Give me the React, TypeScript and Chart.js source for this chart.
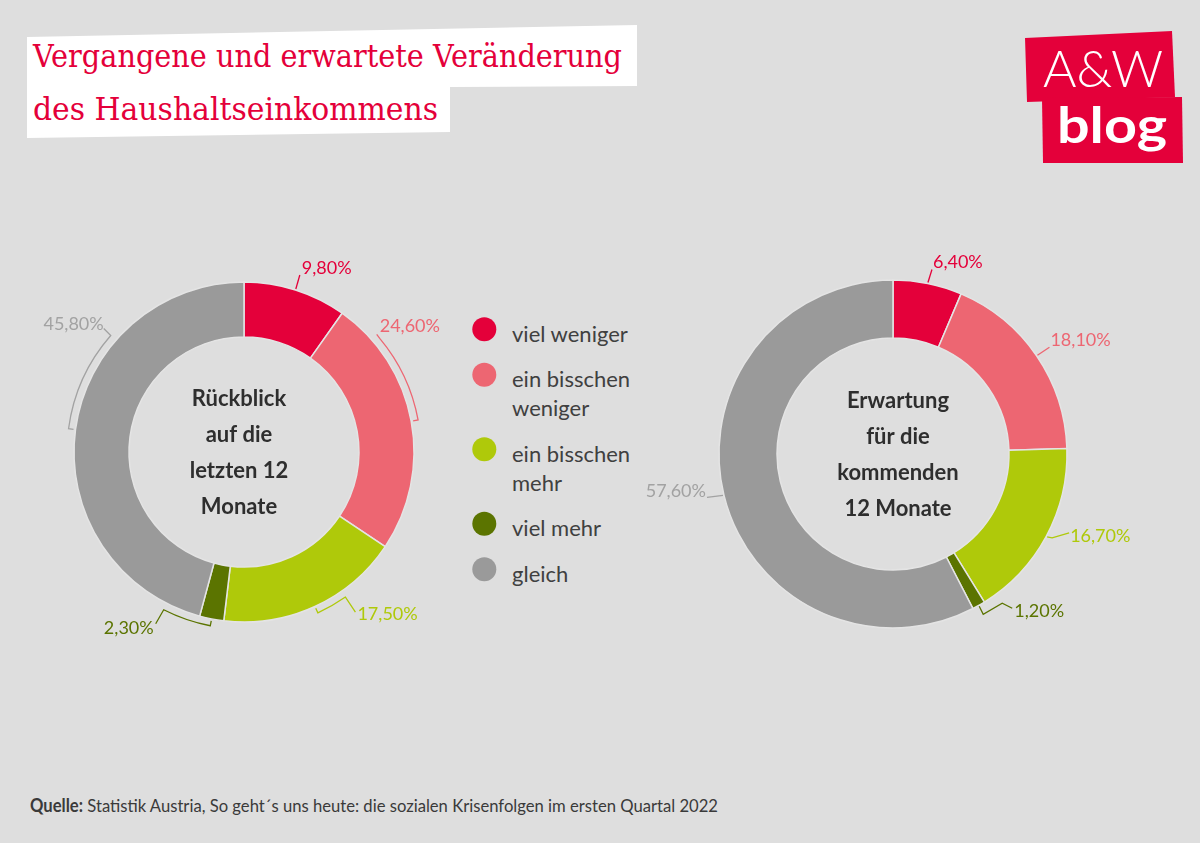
import React, { useEffect, useRef } from "react";
import { Chart, registerables } from "chart.js";

Chart.register(...registerables);

// ---------- data ----------
const categories = ["viel weniger", "ein bisschen weniger", "ein bisschen mehr", "viel mehr", "gleich"];
const legendLines = [["viel weniger"], ["ein bisschen", "weniger"], ["ein bisschen", "mehr"], ["viel mehr"], ["gleich"]];
const pastValues = [9.8, 24.6, 17.5, 2.3, 45.8];
const futureValues = [6.4, 18.1, 16.7, 1.2, 57.6];
const pastCenter = ["Rückblick", "auf die", "letzten 12", "Monate"];
const futureCenter = ["Erwartung", "für die", "kommenden", "12 Monate"];
const titleLines = ["Vergangene und erwartete Veränderung", "des Haushaltseinkommens"];
const sourceBold = "Quelle:";
const sourceText = " Statistik Austria, So geht´s uns heute: die sozialen Krisenfolgen im ersten Quartal 2022";

// ---------- styles ----------
const BG = "#dedede";
const RED = "#e4003a";
const colors = ["#e4003a", "#ed6672", "#afc90a", "#5b7400", "#9a9a9a"];
const labelColors = ["#e4003a", "#ed6672", "#afc90a", "#5b7400", "#a2a2a2"];
const SANS = "Lato, 'Noto Sans', sans-serif";

type Leader = {
  kind: "path" | "bracket";
  sweep?: number;
  pts: [number, number][];
  label: [number, number];
  align: "left" | "right";
};

const pastLeaders: Leader[] = [
  { kind: "path", pts: [[4, -14]], label: [6, -21], align: "left" },
  { kind: "bracket", sweep: -29.5, pts: [[-3, -4]], label: [0, -12], align: "left" },
  { kind: "bracket", sweep: -10.3, pts: [[10, 15]], label: [12, 17], align: "left" },
  { kind: "bracket", sweep: 16, pts: [[-8, 14]], label: [-10, 18], align: "right" },
  { kind: "bracket", sweep: 33.6, pts: [[-7, -7]], label: [-7, -11], align: "right" },
];

const futureLeaders: Leader[] = [
  { kind: "path", pts: [[4, -13]], label: [5, -20], align: "left" },
  { kind: "path", pts: [[12, -8]], label: [13, -15], align: "left" },
  { kind: "path", pts: [[5, 1], [22, -4]], label: [23, -1], align: "left" },
  { kind: "path", pts: [[4, 8], [23, -3], [33, 2]], label: [35, 5], align: "left" },
  { kind: "path", pts: [[-16, 2]], label: [-17, -4], align: "right" },
];

const fmt = (v: number) => v.toFixed(2).replace(".", ",") + "%";

const decorPlugin = {
  id: "donutDecor",
  afterDatasetsDraw(chart: any, _args: any, opts: any) {
    const ctx = chart.ctx as CanvasRenderingContext2D;
    const meta = chart.getDatasetMeta(0);
    const data = chart.data.datasets[0].data as number[];
    let cx = 0,
      cy = 0;
    meta.data.forEach((arc: any, i: number) => {
      const p = arc.getProps(["x", "y", "startAngle", "endAngle", "outerRadius"], true);
      cx = p.x;
      cy = p.y;
      const mid = (p.startAngle + p.endAngle) / 2;
      const R = p.outerRadius;
      const spec: Leader = opts.leaders[i];
      const col = opts.labelColors[i];
      ctx.save();
      ctx.strokeStyle = col;
      ctx.fillStyle = col;
      ctx.lineWidth = 1.3;
      let ex: number, ey: number;
      ctx.beginPath();
      if (spec.kind === "bracket") {
        const rb = R + 7;
        const rs = R + 2;
        const end = mid + ((spec.sweep || 0) * Math.PI) / 180;
        ctx.moveTo(p.x + rs * Math.cos(mid), p.y + rs * Math.sin(mid));
        ctx.arc(p.x, p.y, rb, mid, end, (spec.sweep || 0) < 0);
        ex = p.x + rb * Math.cos(end);
        ey = p.y + rb * Math.sin(end);
      } else {
        ex = p.x + (R + 1) * Math.cos(mid);
        ey = p.y + (R + 1) * Math.sin(mid);
        ctx.moveTo(ex, ey);
      }
      spec.pts.forEach(([dx, dy]) => ctx.lineTo(ex + dx, ey + dy));
      ctx.stroke();
      ctx.font = `18px ${SANS}`;
      ctx.textAlign = spec.align;
      ctx.textBaseline = "middle";
      ctx.fillText(fmt(data[i]), ex + spec.label[0], ey + spec.label[1]);
      ctx.restore();
    });
    // center text
    ctx.save();
    ctx.fillStyle = "#2e2e2e";
    ctx.font = `bold 22px ${SANS}`;
    ctx.textAlign = "center";
    ctx.textBaseline = "alphabetic";
    const offs = [-46, -10, 26, 62];
    (opts.center as string[]).forEach((line, k) => {
      ctx.fillText(line, cx + opts.centerDx, cy + offs[k]);
    });
    ctx.restore();
  },
};

const SIZE = 560;

function Donut(props: {
  values: number[];
  leaders: Leader[];
  center: string[];
  centerDx: number;
  radius: number;
  inner: number;
  left: number;
  top: number;
}) {
  const ref = useRef<HTMLCanvasElement | null>(null);
  useEffect(() => {
    if (!ref.current) return;
    const chart = new Chart(ref.current, {
      type: "doughnut",
      data: {
        labels: categories,
        datasets: [
          {
            data: props.values,
            backgroundColor: colors,
            borderColor: "#e4e4e4",
            borderWidth: 1.5,
            hoverOffset: 0,
          },
        ],
      },
      options: {
        responsive: false,
        animation: false,
        devicePixelRatio: 1,
        events: [],
        radius: props.radius,
        cutout: `${(props.inner / props.radius) * 100}%`,
        layout: { padding: 0 },
        plugins: {
          legend: { display: false },
          tooltip: { enabled: false },
          donutDecor: {
            leaders: props.leaders,
            labelColors,
            center: props.center,
            centerDx: props.centerDx,
          },
        } as any,
      } as any,
      plugins: [decorPlugin as any],
    });
    return () => chart.destroy();
  }, []);
  return (
    <canvas
      ref={ref}
      width={SIZE}
      height={SIZE}
      style={{ position: "absolute", left: props.left, top: props.top, width: SIZE, height: SIZE }}
    />
  );
}

export default function App() {
  useEffect(() => {
    document.body.style.margin = "0";
  }, []);

  // legend layout
  const legendBaselines: number[] = [];
  let b = 341.7;
  legendLines.forEach((lines) => {
    legendBaselines.push(b);
    b += 45.5 + 29 * (lines.length - 1);
  });

  return (
    <div style={{ position: "absolute", left: 0, top: 0, width: 1200, height: 843, background: BG, overflow: "hidden" }}>
      <svg width={1200} height={843} style={{ position: "absolute", left: 0, top: 0 }}>
        <rect x={0} y={0} width={1200} height={843} fill={BG} />
        {/* title */}
        <polygon points="27,37 637,25 637,86 450,87 450,132 27,138" fill="#ffffff" />
        <text x={33} y={67} fontFamily="'DejaVu Serif', serif" fontSize={32} fill={RED} textLength={589} lengthAdjust="spacingAndGlyphs">
          {titleLines[0]}
        </text>
        <text x={33} y={120} fontFamily="'DejaVu Serif', serif" fontSize={32} fill={RED} textLength={405} lengthAdjust="spacingAndGlyphs">
          {titleLines[1]}
        </text>
        {/* logo */}
        <polygon points="1025,38 1172,31 1175,97 1027,102" fill={RED} />
        <polygon points="1042,98 1182,97 1183,163 1043,163" fill={RED} />
        <text x={1043} y={87} fontFamily={SANS} fontWeight={300} fontSize={52} fill="#ffffff" textLength={120} lengthAdjust="spacingAndGlyphs">
          A&amp;W
        </text>
        <text x={1057} y={143} fontFamily={SANS} fontWeight={700} fontSize={49} fill="#ffffff" textLength={110} lengthAdjust="spacingAndGlyphs">
          blog
        </text>
        {/* legend */}
        {legendLines.map((lines, i) => (
          <g key={i}>
            <circle cx={484.3} cy={legendBaselines[i] - 12.4} r={12} fill={colors[i]} />
            {lines.map((ln, k) => (
              <text key={k} x={512} y={legendBaselines[i] + k * 29} fontFamily={SANS} fontSize={22} fill="#404040">
                {ln}
              </text>
            ))}
          </g>
        ))}
        {/* source */}
        <text x={30} y={812} fontFamily={SANS} fontSize={18} fill="#3a3a3a" textLength={688} lengthAdjust="spacingAndGlyphs">
          <tspan fontWeight={700}>{sourceBold}</tspan>
          <tspan>{sourceText}</tspan>
        </text>
      </svg>
      <Donut values={pastValues} leaders={pastLeaders} center={pastCenter} centerDx={-5} radius={170} inner={115} left={244 - SIZE / 2} top={452 - SIZE / 2} />
      <Donut values={futureValues} leaders={futureLeaders} center={futureCenter} centerDx={5} radius={174} inner={116} left={893 - SIZE / 2} top={454 - SIZE / 2} />
    </div>
  );
}
